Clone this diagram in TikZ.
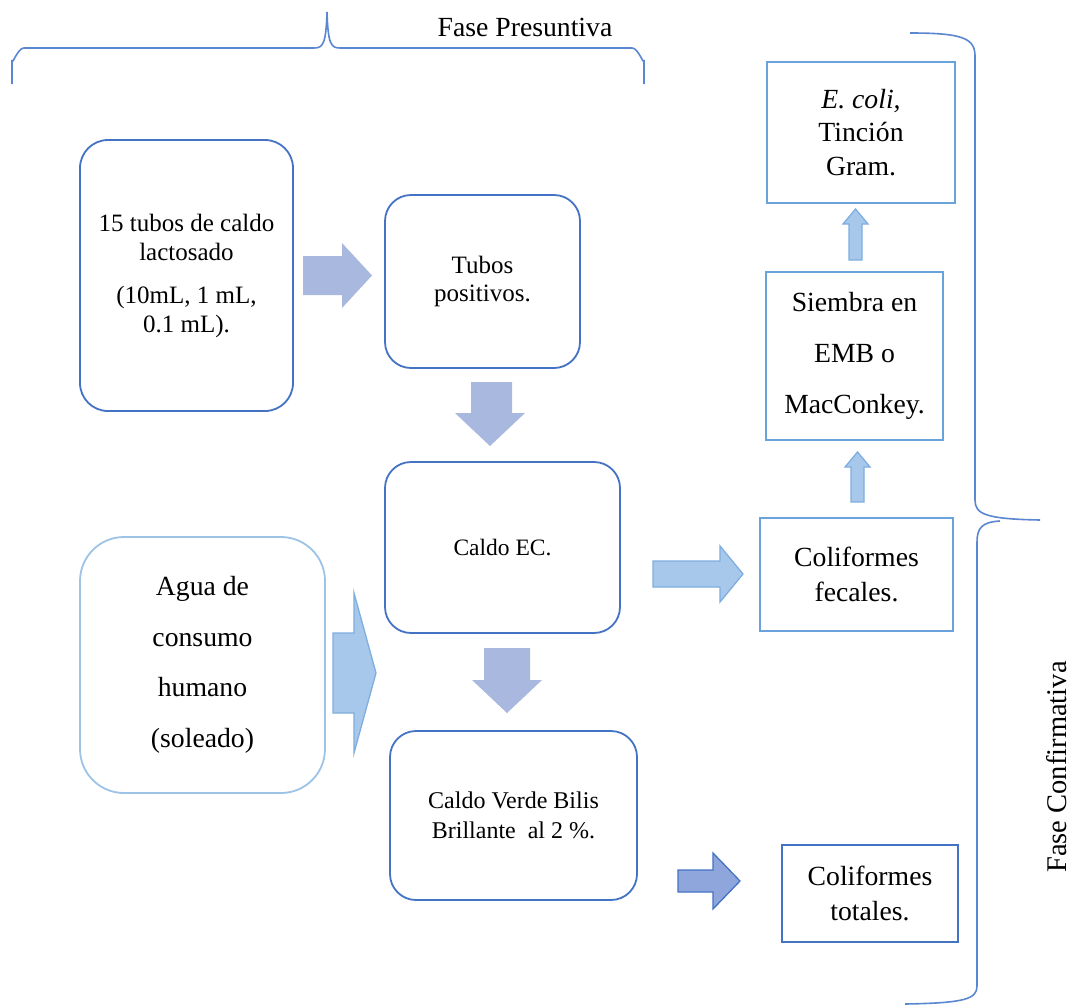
\documentclass[tikz,border=0pt]{standalone}
\usepackage{fontspec}
\setmainfont{Liberation Serif}
\definecolor{boxdark}{HTML}{4472C4}
\definecolor{boxlight}{HTML}{6AA2DC}
\definecolor{boxpale}{HTML}{9DC3E6}
\definecolor{bracecol}{HTML}{5B87D0}
\definecolor{arrowlav}{HTML}{A9B8DF}
\definecolor{arrowsky}{HTML}{A8C8EB}
\definecolor{arrowskyline}{HTML}{7EAEE0}
\definecolor{arrowmid}{HTML}{8FA6DD}
\begin{document}
\begin{tikzpicture}[x=1pt,y=-1pt,
  box/.style={line width=1.8pt, align=center, inner sep=0pt, fill=white},
  roundbox/.style={box, draw=boxdark, rounded corners=26pt},
  squarebox/.style={box, draw=boxlight},
  big/.style={font=\fontsize{27.7}{33}\selectfont},
  brace/.style={draw=bracecol, line width=1.6pt},
  flatarrow/.style={fill=arrowlav},
  skyarrow/.style={fill=arrowsky, draw=arrowskyline, line width=1.3pt, line join=miter},
  midarrow/.style={fill=arrowmid, draw=boxdark, line width=1.3pt, line join=miter}]

\fill[white] (0,0) rectangle (1075,1007);
\useasboundingbox (0,0) rectangle (1075,1007);

% ---------- presumptive phase ----------
\node[big] (presLabel) at (525,27) {Fase Presuntiva};
\draw[brace] (12,84) -- (12,60) to[out=-90,in=180] (24,48) -- (314,48)
  .. controls (323,48) and (326,44) .. (327,12)
  .. controls (328,44) and (331,48) .. (340,48) -- (632,48)
  to[out=0,in=-90] (644,60) -- (644,84);

\node[roundbox, rounded corners=28pt, minimum width=213pt, minimum height=271pt,
      font=\fontsize{25}{29}\selectfont] (lact) at (186.5,275.5)
  {15 tubos de caldo\\lactosado\\[14pt](10mL, 1 mL,\\0.1 mL).};
\node[roundbox, minimum width=195pt, minimum height=173pt,
      font=\fontsize{25}{28}\selectfont] (pos) at (482.5,281.5)
  {Tubos\\positivos.};
\node[roundbox, minimum width=235pt, minimum height=171pt,
      font=\fontsize{23.5}{28}\selectfont] (ec) at (502.5,547.5)
  {Caldo EC.};
\node[box, draw=boxpale, rounded corners=44pt, minimum width=245pt, minimum height=256pt,
      font=\fontsize{27.7}{50.5}\selectfont] (agua) at (202.5,665)
  {Agua de\\consumo\\humano\\(soleado)};
\node[roundbox, minimum width=247pt, minimum height=169pt,
      font=\fontsize{24}{30}\selectfont] (verde) at (513.5,815.5)
  {Caldo Verde Bilis\\Brillante\ \ al 2 \%.};

% ---------- confirmative phase ----------
\node[squarebox, minimum width=193pt, minimum height=113pt,
      font=\fontsize{27.7}{35}\selectfont] (fecal) at (856.5,574.5)
  {Coliformes\\fecales.};
\node[box, draw=boxdark, minimum width=176pt, minimum height=97pt,
      font=\fontsize{27.7}{35}\selectfont] (total) at (870,893.5)
  {Coliformes\\totales.};
\node[squarebox, minimum width=177pt, minimum height=168pt,
      font=\fontsize{27.7}{51}\selectfont] (siembra) at (854.5,356)
  {Siembra en\\EMB o\\MacConkey.};
\node[squarebox, minimum width=188pt, minimum height=141pt,
      font=\fontsize{27.7}{33.5}\selectfont] (ecoli) at (861,132.5)
  {\textit{E. coli,}\\Tinción\\Gram.};

\draw[brace] (910,33) .. controls (962,33) and (975,38) .. (975,56) -- (975,500)
  .. controls (975,514) and (985,519) .. (1040,520);
\draw[brace] (1000,521) .. controls (982,522) and (977,528) .. (977,542) -- (977,986)
  .. controls (977,999) and (965,1003) .. (905,1004);
\node[big, font=\fontsize{28.5}{33}\selectfont, rotate=90] (confLabel) at (1057,767)
  {Fase Confirmativa};

% ---------- block arrows ----------
% lactose broth -> positive tubes
\path[flatarrow] (303,256) -- (342,256) -- (342,243) -- (372,275.5) -- (342,308)
  -- (342,295) -- (303,295) -- cycle;
% positive tubes -> EC broth
\path[flatarrow] (471,382) -- (512,382) -- (512,413) -- (525,413) -- (490,446)
  -- (455,413) -- (471,413) -- cycle;
% EC broth -> brilliant green bile broth
\path[flatarrow] (484,648) -- (530,648) -- (530,680) -- (542,680) -- (507,713)
  -- (472,680) -- (484,680) -- cycle;
% water sample -> broths
\path[skyarrow] (333,633) -- (354,633) -- (354,593) -- (376,673) -- (354,753)
  -- (354,713) -- (333,713) -- cycle;
% EC broth -> fecal coliforms
\path[skyarrow] (653,561) -- (720,561) -- (720,546) -- (743,574) -- (720,602)
  -- (720,587) -- (653,587) -- cycle;
% green bile broth -> total coliforms
\path[midarrow] (678,870) -- (713,870) -- (713,853) -- (740,881) -- (713,909)
  -- (713,892) -- (678,892) -- cycle;
% fecal coliforms -> EMB / MacConkey
\path[skyarrow] (851,502) -- (851,467) -- (845,467) -- (857.5,452) -- (870,467)
  -- (864,467) -- (864,502) -- cycle;
% EMB / MacConkey -> E. coli, Gram stain
\path[skyarrow] (849,260) -- (849,224) -- (843,224) -- (855.5,209) -- (868,224)
  -- (862,224) -- (862,260) -- cycle;

\end{tikzpicture}
\end{document}
